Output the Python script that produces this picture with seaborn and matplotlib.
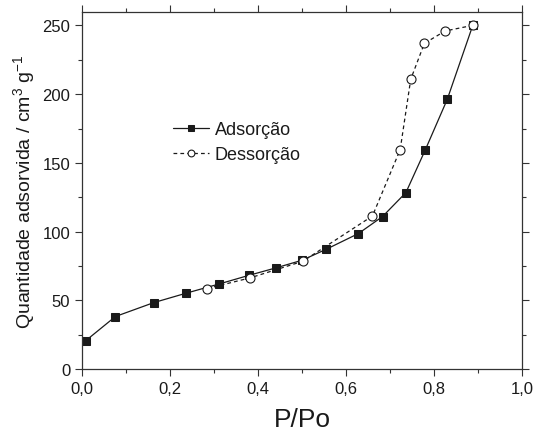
import numpy as np
import pandas as pd
import matplotlib
matplotlib.use("Agg")
import matplotlib.pyplot as plt
import seaborn as sns
from matplotlib.ticker import MultipleLocator, FuncFormatter

# adsorption branch (P/Po, volume)
ads_x = [0.008, 0.076, 0.163, 0.236, 0.312, 0.380, 0.440, 0.500, 0.555,
         0.628, 0.683, 0.736, 0.780, 0.830, 0.888]
ads_y = [20.6, 38.3, 48.4, 55.2, 62.0, 68.3, 73.6, 79.2, 87.2,
         98.6, 111.0, 128.4, 159.4, 196.2, 250.0]

# desorption branch
des_x = [0.888, 0.825, 0.778, 0.747, 0.723, 0.660, 0.502, 0.382, 0.284]
des_y = [250.0, 245.9, 236.9, 210.8, 159.6, 111.4, 78.5, 66.4, 58.6]

sns.set_theme(style="ticks")
plt.rcParams['font.family'] = ['Liberation Sans', 'DejaVu Sans']
plt.rcParams['mathtext.fontset'] = 'custom'
plt.rcParams['mathtext.rm'] = 'Liberation Sans'
plt.rcParams['mathtext.it'] = 'Liberation Sans'

ink = "#1a1a1a"
df_ads = pd.DataFrame({"x": ads_x, "y": ads_y})
df_des = pd.DataFrame({"x": des_x, "y": des_y})

fig = plt.figure(figsize=(5.36, 4.35), dpi=100)
ax = fig.add_axes([0.153, 0.149, 0.821, 0.822])

sns.lineplot(data=df_ads, x="x", y="y", ax=ax, color=ink, lw=0.9,
             marker="s", markersize=6, markerfacecolor=ink, markeredgecolor=ink,
             sort=False, label="Adsorção")
sns.lineplot(data=df_des, x="x", y="y", ax=ax, color=ink, lw=0.9, ls=(0, (3, 2.5)),
             marker="o", markersize=6.5, markerfacecolor="white", markeredgecolor=ink,
             markeredgewidth=0.8, sort=False, label="Dessorção")

ax.set_xlim(0, 1.0)
ax.set_ylim(0, 260)
ax.xaxis.set_major_locator(MultipleLocator(0.2))
ax.xaxis.set_minor_locator(MultipleLocator(0.1))
ax.yaxis.set_major_locator(MultipleLocator(50))
ax.yaxis.set_minor_locator(MultipleLocator(25))
ax.xaxis.set_major_formatter(FuncFormatter(lambda v, p: f"{v:.1f}".replace(".", ",")))

ax.tick_params(which="both", direction="out", top=True, right=True,
               labeltop=False, labelright=False, color="#333333", width=0.8,
               labelsize=12, labelcolor=ink)
ax.tick_params(which="major", length=5)
ax.tick_params(which="minor", length=3)
for s in ax.spines.values():
    s.set_visible(True)
    s.set_color("#333333")
    s.set_linewidth(0.9)

ax.set_xlabel("P/Po", fontsize=19, color=ink, labelpad=8)
ax.set_ylabel("Quantidade adsorvida / cm$^3$ g$^{-1}$", fontsize=14, color=ink, labelpad=4)
ax.grid(False)

leg = ax.legend(loc="upper left", bbox_to_anchor=(0.17, 0.74), frameon=False,
                fontsize=13, handlelength=2.0, handletextpad=0.3, labelspacing=0.45,
                markerscale=0.75)
for t in leg.get_texts():
    t.set_color(ink)

fig.savefig("out.png", dpi=100)
